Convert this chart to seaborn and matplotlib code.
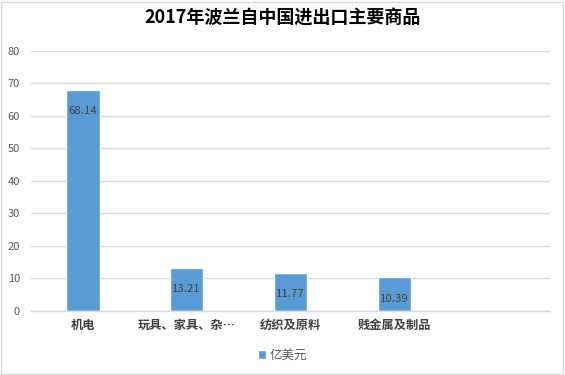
import matplotlib
matplotlib.use("Agg")
import matplotlib.pyplot as plt
import seaborn as sns
import pandas as pd
from matplotlib.patches import Rectangle

categories = ["机电", "玩具、家具、杂…", "纺织及原料", "贱金属及制品"]
values = [68.14, 13.21, 11.77, 10.39]
axis_order = categories + [" "]
series_name = "亿美元"
title = "2017年波兰自中国进出口主要商品"
yticks = [0, 10, 20, 30, 40, 50, 60, 70, 80]

sns.set_theme(style="white")
plt.rcParams['font.family'] = ['Noto Sans CJK SC', 'DejaVu Sans']

df = pd.DataFrame({"cat": categories, "val": values, "series": [series_name] * len(categories)})

fig = plt.figure(figsize=(5.65, 3.75), dpi=100)
ax = fig.add_axes([0.055, 0.171, 0.918, 0.693])

sns.barplot(data=df, x="cat", y="val", hue="series", order=axis_order,
            palette=["#5B9BD5"], saturation=1, width=0.32, dodge=False, ax=ax, legend=True)

ax.set_ylim(0, 80)
ax.set_yticks(yticks)
ax.set_xlim(-0.5, len(axis_order) - 0.5)
ax.yaxis.grid(True, color="#D9D9D9", linewidth=1)
ax.set_axisbelow(True)
for s in ["top", "right", "left"]:
    ax.spines[s].set_visible(False)
ax.spines["bottom"].set_color("#D9D9D9")
ax.spines["bottom"].set_linewidth(1)
ax.tick_params(axis="both", length=0)
ax.tick_params(axis="y", labelsize=8, labelcolor="#595959", pad=8)
ax.tick_params(axis="x", labelsize=8.8, labelcolor="#404040", pad=6)
for lbl in ax.get_xticklabels():
    lbl.set_fontweight("bold")
ax.set_xlabel("")
ax.set_ylabel("")

for cont in ax.containers:
    labels = [f"{v:.2f}" for v in cont.datavalues]
    ax.bar_label(cont, labels=labels, label_type="edge", padding=-19,
                 fontsize=8.2, color="#404040")

fig.suptitle(title, x=0.5, y=0.978, fontsize=13, fontweight="bold", color="#000000")

leg = ax.get_legend()
handles = leg.legend_handles
leg.remove()
fig.legend(handles=handles, labels=[series_name], loc="center", bbox_to_anchor=(0.5, 0.053),
           frameon=False, fontsize=9, handlelength=0.7, handleheight=0.7,
           handletextpad=0.3, labelcolor="#595959")

fig.patches.append(Rectangle((0.002, 0.003), 0.995, 0.993, transform=fig.transFigure,
                             fill=False, edgecolor="#D9D9D9", linewidth=1))

fig.savefig("out.png", dpi=100)
